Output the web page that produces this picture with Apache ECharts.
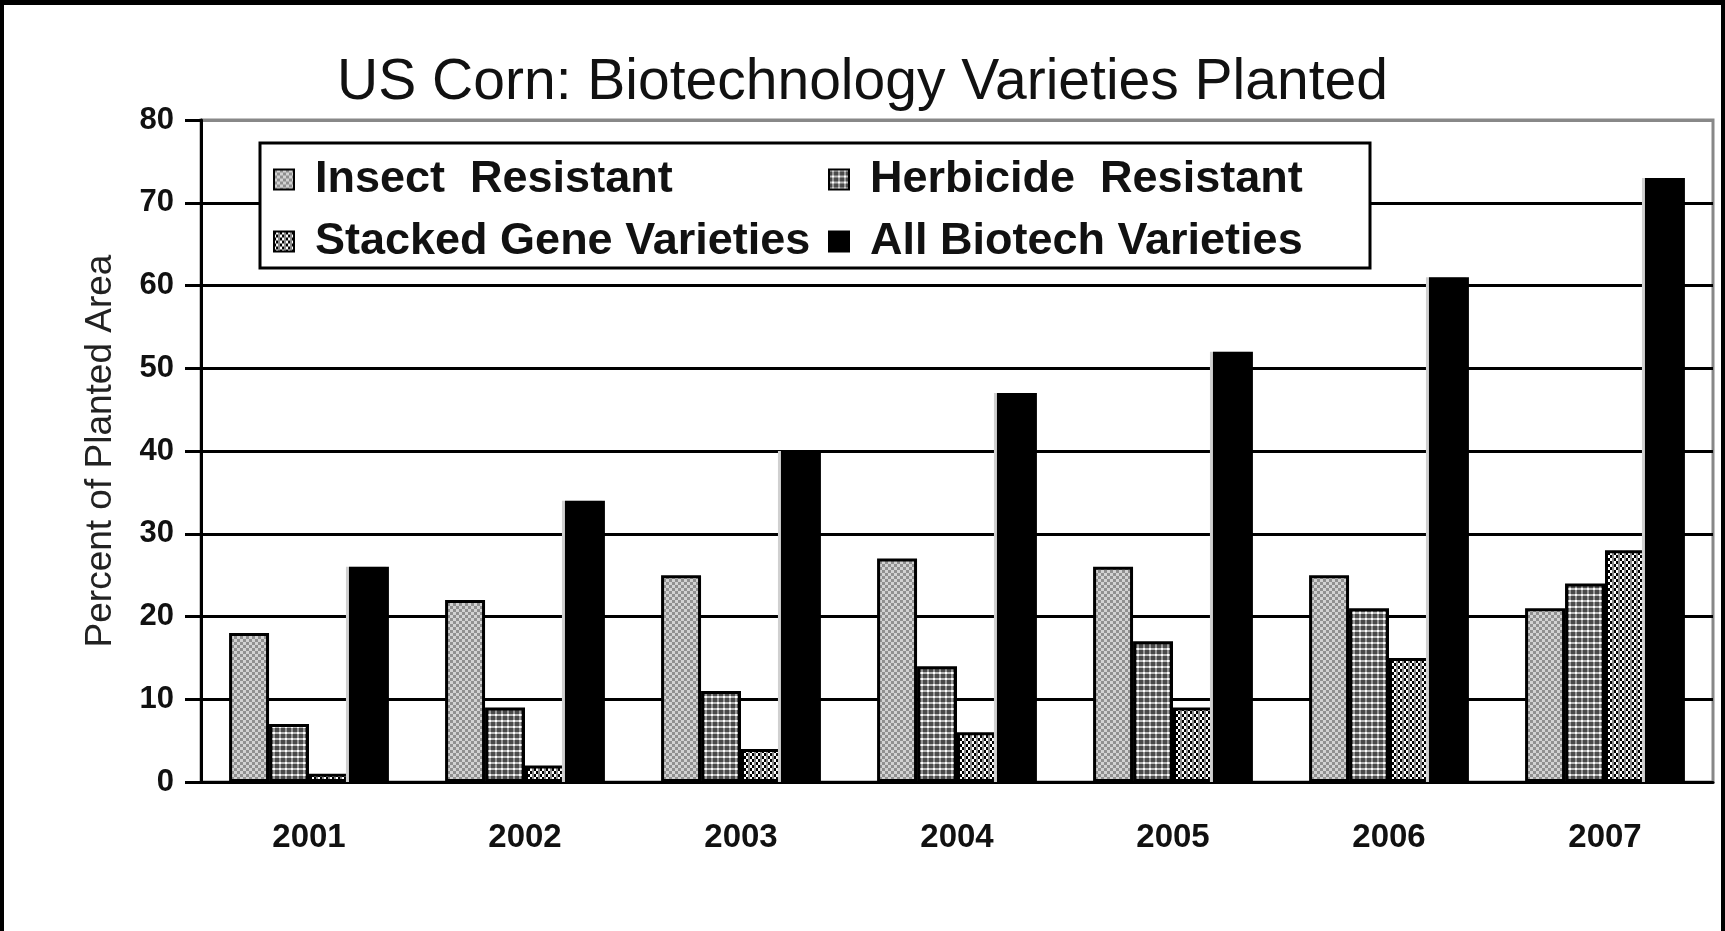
<!DOCTYPE html>
<html>
<head>
<meta charset="utf-8">
<script src="https://cdn.jsdelivr.net/npm/echarts@6/dist/echarts.min.js"></script>
<style>
  html, body { margin: 0; padding: 0; background: #fff; }
  #chart { width: 1725px; height: 931px; }
  #frame {
    position: absolute; left: 0; top: 0; width: 1725px; height: 931px;
    box-sizing: border-box; border: 4px solid #000; border-top-width: 5px; border-bottom: none;
    pointer-events: none;
  }
</style>
</head>
<body>
<div id="chart"></div>
<div id="frame"></div>
<script>
var years = ["2001", "2002", "2003", "2004", "2005", "2006", "2007"];
var insectResistant = [18, 22, 25, 27, 26, 25, 21];
var herbicideResistant = [7, 9, 11, 14, 17, 21, 24];
var stackedGene = [1, 2, 4, 6, 9, 15, 28];
var allBiotech = [26, 34, 40, 47, 52, 61, 73];
var yTicks = { min: 0, max: 80, interval: 10 };

var FONT = "'Liberation Sans', Arial, sans-serif";

// small canvas tiles used as fill patterns (the original is a b/w print)
function makePattern(w, h, draw) {
  var c = document.createElement("canvas");
  c.width = w;
  c.height = h;
  draw(c.getContext("2d"));
  return { image: c, repeat: "repeat" };
}

var insectFill = makePattern(6, 6, function (ctx) {
  ctx.fillStyle = "#d2d2d2";
  ctx.fillRect(0, 0, 6, 6);
  ctx.fillStyle = "#909090";
  ctx.fillRect(0, 0, 3, 3);
  ctx.fillRect(3, 3, 3, 3);
});
var herbicideFill = makePattern(6, 6, function (ctx) {
  ctx.fillStyle = "#4a4a4a";
  ctx.fillRect(0, 0, 6, 6);
  ctx.fillStyle = "#9a9a9a";
  ctx.fillRect(3, 0, 2, 6);
  ctx.fillStyle = "#b8b8b8";
  ctx.fillRect(0, 0, 6, 2);
  ctx.fillStyle = "#fff";
  ctx.fillRect(3, 0, 2, 2);
});
var stackedFill = makePattern(6, 6, function (ctx) {
  ctx.fillStyle = "#fff";
  ctx.fillRect(0, 0, 6, 6);
  ctx.fillStyle = "#000";
  ctx.fillRect(0, 0, 2, 3);
  ctx.fillRect(2, 3, 2, 3);
  ctx.fillStyle = "#8a8a8a";
  ctx.fillRect(4, 0, 2, 6);
});

var chart = echarts.init(document.getElementById("chart"));

function patternSeries(name, data, fill) {
  return {
    name: name,
    type: "bar",
    data: data,
    barGap: "0%",
    barCategoryGap: "26%",
    itemStyle: { color: fill, borderColor: "#000", borderWidth: 3 }
  };
}

chart.setOption({
  animation: false,
  backgroundColor: "#fff",
  title: {
    text: "US Corn: Biotechnology Varieties Planted",
    left: "center",
    top: 50,
    textStyle: { fontFamily: FONT, fontSize: 57, fontWeight: "normal", color: "#111" }
  },
  legend: {
    left: 260,
    top: 143,
    orient: "horizontal",
    icon: "rect",
    itemGap: 17,
    itemWidth: 20,
    itemHeight: 20,
    padding: [14, 38, 4, 13],
    borderColor: "#000",
    borderWidth: 3,
    backgroundColor: "#fff",
    itemStyle: { borderWidth: 2, borderColor: "#000" },
    textStyle: {
      fontFamily: FONT, fontSize: 45, fontWeight: "bold", color: "#111",
      lineHeight: 45, padding: [0, 0, 0, 16], width: 496, overflow: "none"
    },
    data: [
      { name: "Insect  Resistant" },
      { name: "Herbicide  Resistant", textStyle: { width: 462 } },
      { name: "Stacked Gene Varieties" },
      { name: "All Biotech Varieties", textStyle: { width: 462 } }
    ]
  },
  grid: {
    left: 201, right: 12, top: 120, bottom: 149,
    show: true, borderColor: "#888", borderWidth: 3
  },
  xAxis: {
    type: "category",
    data: years,
    axisLine: { lineStyle: { color: "#000", width: 3 } },
    axisTick: { length: 11, lineStyle: { color: "#000", width: 3 } },
    axisLabel: { fontFamily: FONT, fontSize: 33, fontWeight: "bold", color: "#111", margin: 39 }
  },
  yAxis: {
    type: "value",
    min: yTicks.min,
    max: yTicks.max,
    interval: yTicks.interval,
    name: "Percent of Planted Area",
    nameLocation: "middle",
    nameGap: 82,
    nameTextStyle: { fontFamily: FONT, fontSize: 37, color: "#222" },
    axisLine: { show: true, lineStyle: { color: "#000", width: 3 } },
    axisTick: { show: true, length: 16, lineStyle: { color: "#000", width: 3 } },
    axisLabel: { fontFamily: FONT, fontSize: 31, fontWeight: "bold", color: "#111", margin: 27 },
    splitLine: {
      lineStyle: {
        color: ["#000", "#000", "#000", "#000", "#000", "#000", "#000", "#000", "#888"],
        width: 3
      }
    }
  },
  series: [
    patternSeries("Insect  Resistant", insectResistant, insectFill),
    patternSeries("Herbicide  Resistant", herbicideResistant, herbicideFill),
    patternSeries("Stacked Gene Varieties", stackedGene, stackedFill),
    {
      name: "All Biotech Varieties",
      type: "bar",
      data: allBiotech,
      barGap: "0%",
      barCategoryGap: "26%",
      itemStyle: { color: "#000", shadowColor: "#d0d0d0", shadowOffsetX: -3, shadowBlur: 0 }
    }
  ]
});
</script>
</body>
</html>
